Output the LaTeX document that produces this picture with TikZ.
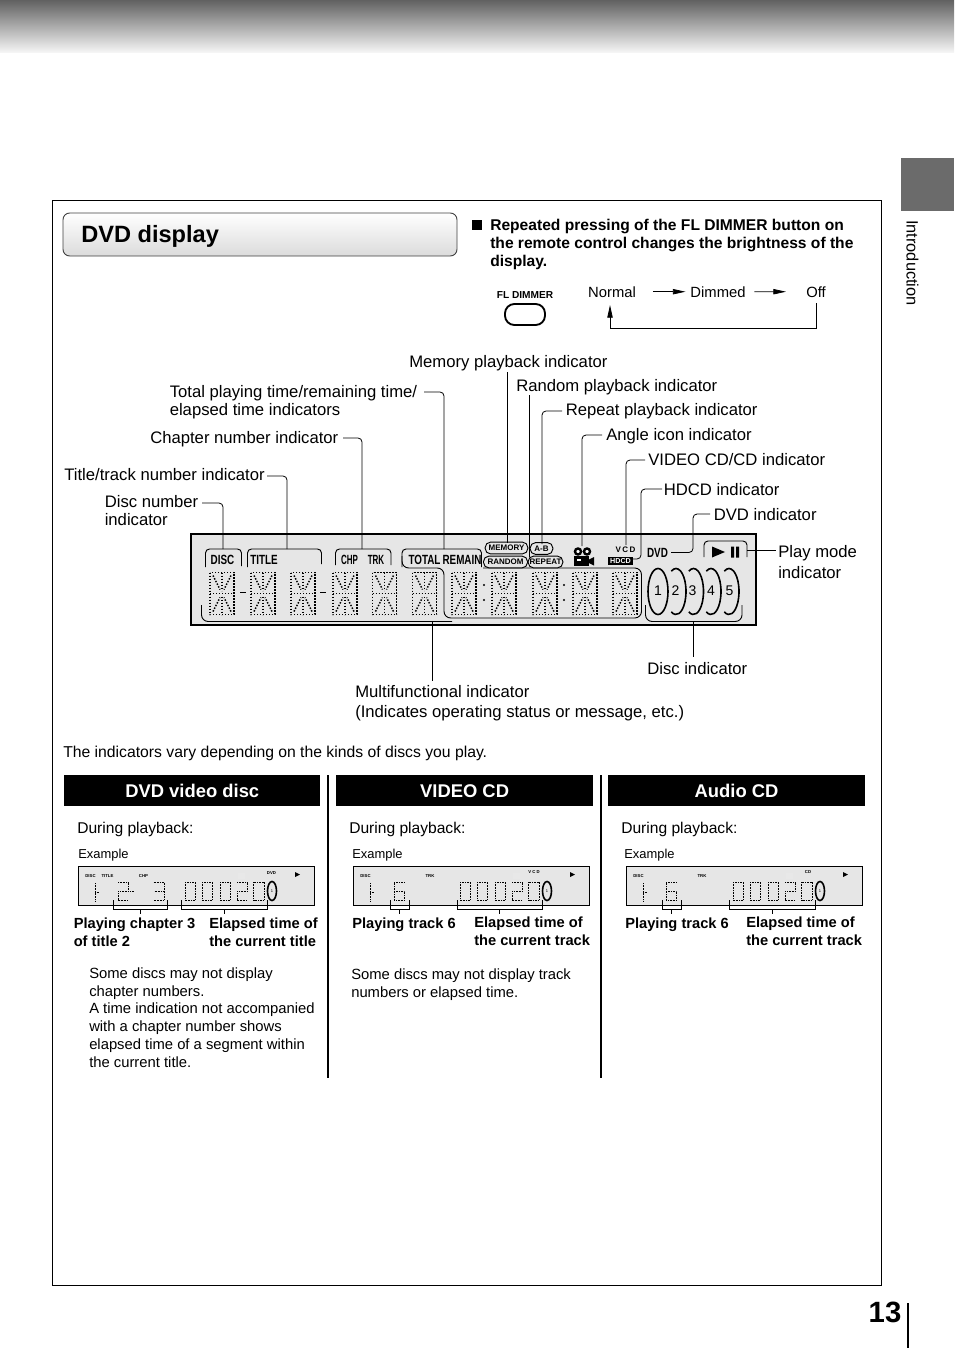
\documentclass[tikz,border=0pt]{standalone}
\usepackage{fontspec}
\setmainfont{Liberation Sans}
\usetikzlibrary{arrows.meta, shapes.geometric}
\definecolor{lcdcolor}{HTML}{E6E6E6}
\definecolor{tabcolor}{HTML}{6B6B6B}
\newcommand{\fsz}[1]{\fontsize{#1}{#1}\selectfont}
\newcommand{\narrowtxt}[1]{\scalebox{.74}[1]{#1}}
\newcommand{\slimtxt}[1]{\scalebox{.6}[1]{#1}}
\tikzset{
  pics/lcdchar/.style={code={
    \draw[lcdot] (-12,-21) rectangle (12,21) (-12,0) -- (12,0) (0,-21) -- (0,-3) (0,3) -- (0,21);
    \draw[lcdot] (-9,-18) -- (-2,-4) (9,-18) -- (2,-4) (-9,18) -- (-2,4) (9,18) -- (2,4);
  }},
  pics/dzero/.style={code={\draw[minidot] (0,0) rectangle (10.5,18);}},
  pics/dtwo/.style={code={\draw[minidot] (0,0) -- (10.5,0) -- (10.5,9) -- (0,9) -- (0,18) -- (10.5,18);}},
  pics/dthree/.style={code={\draw[minidot] (0,0) -- (10.5,0) -- (10.5,18) -- (0,18) (1,9) -- (10.5,9);}},
  pics/dsix/.style={code={\draw[minidot] (10.5,0) -- (0,0) -- (0,18) -- (10.5,18) -- (10.5,9) -- (0,9);}},
  pics/done/.style={code={\draw[minidot] (0,0) -- (0,18) (0,9) -- (4,9);}},
}
% one small display, #1 = shift, #2 = name suffix
\newcommand{\minidisp}[2]{
  \begin{scope}[shift={(#1,0)}]
    \node[tiny lcd, anchor=center] (mdisc#2) at (90.5,876.5) {DISC};
    \path (95,883) pic {done};
    \draw[lcdring] (272,891) ellipse (4.5 and 9.5);
    \node[tiny lcd, font=\fsz{3}, anchor=center] (mone#2) at (272,891) {1};
    \foreach \x/\d in {185/dzero,202/dzero,220/dzero,237/dtwo,253.5/dzero} \path (\x,882) pic {\d};
    \fill[black] (295,872) -- (300,874.5) -- (295,877) -- cycle;
    \fill[black!9] (238,873) rectangle (245,879);
  \end{scope}
}
\begin{document}
\begin{tikzpicture}[x=0.75pt, y=-0.75pt,
    lbl/.style={font=\fsz{12.5}, inner sep=0, anchor=base west, align=left},
    note/.style={lbl, font=\fsz{11.1}},
    boldtxt/.style={lbl, font=\fsz{11}\bfseries},
    lead/.style={line width=.6pt, rounded corners=3pt},
    arr/.style={-{Stealth[length=9.5pt, width=4pt, inset=0pt]}, line width=.6pt},
    brk/.style={line width=.7pt, rounded corners=3pt},
    lcdot/.style={line width=1.15pt, dash pattern=on 1.1pt off 1.15pt},
    minidot/.style={line width=.45pt, dash pattern=on .6pt off .6pt},
    lcdring/.style={line width=1.2pt},
    lcdtxt/.style={font=\fsz{10}\bfseries, inner sep=0},
    tiny lcd/.style={font=\fsz{3.2}\bfseries, inner sep=0},
    pill/.style={draw, fill=lcdcolor, rounded corners=4pt, inner sep=0, line width=.7pt, font=\fsz{6}\bfseries, minimum height=8.8pt},
    head/.style={fill=black, text=white, font=\fsz{13.8}\bfseries, minimum height=23.25pt, minimum width=192.5pt, inner sep=0, text height=10pt, text depth=0pt},
  ]
  \useasboundingbox (0,0) rectangle (954,1348);

  % page furniture
  \fill[top color=black!62, bottom color=black!3] (0,0) rectangle (954,53);
  \fill[tabcolor] (901,158) rectangle (954,211);
  \node[font=\fsz{12.3}, rotate=-90, inner sep=0] (side) at (912.5,263) {Introduction};
  \draw[line width=.7pt] (52,200) rectangle (881,1285);
  \node[font=\fsz{22}\bfseries, inner sep=0] (pageno) at (885,1312) {13};
  \coordinate (ruletop) at (908,1303);
  \coordinate (rulebot) at (908,1348);
  \draw[line width=1.2pt] (ruletop) -- (rulebot);

  % title and dimmer
  \draw[draw=black!75, top color=white, bottom color=black!14, rounded corners=5pt, line width=.7pt] (63,213) rectangle (457,256);
  \node[lbl, font=\fsz{17.7}\bfseries] (title) at (81,243) {DVD display};
  \fill (472,220) rectangle (482,230);
  \node[boldtxt, font=\fsz{11.7}\bfseries] (dimtxt) at (490,267) {Repeated pressing of the FL DIMMER button on\\[1.8pt]the remote control changes the brightness of the\\[1.8pt]display.};
  \node[font=\fsz{7.6}\bfseries, inner sep=0] (fldim) at (525,295) {FL DIMMER};
  \draw[line width=1.4pt, rounded corners=7pt] (505,304) rectangle (545,325);
  \node[note, anchor=base] (nrm) at (612,297) {Normal};
  \node[note, anchor=base] (dim) at (718,297) {Dimmed};
  \node[note, anchor=base] (off) at (816,297) {Off};
  \draw[arr, shorten <=12.5pt, shorten >=3.5pt] (nrm) -- (dim);
  \draw[arr, shorten <=6.5pt, shorten >=15pt] (dim) -- (off);
  \coordinate (backtip) at (610,305);
  \coordinate (backlow) at (816,328);
  \draw[arr, shorten <=4.5pt] (off.south) -- (backlow) -- (backlow -| backtip) -- (backtip);

  % big display
  \draw[fill=lcdcolor, line width=1.5pt] (191,534) rectangle (756,625);
  \foreach \x in {222,263,303,345,384.5,424.5,464,504,545,585,625} \path (\x,593.5) pic {lcdchar};
  \foreach \x in {243,323} \draw[line width=.9pt] (\x-3,592.5) -- (\x+3,592.5);
  \foreach \x in {484,564} \foreach \y in {585,600} \fill (\x,\y) circle (1.1);

  \draw[brk] (205.5,567) -- (205.5,549) -- (241.5,549) -- (241.5,566);
  \draw[brk] (247.5,567) -- (247.5,549) -- (321.5,549) -- (321.5,564);
  \draw[brk] (335.5,565) -- (335.5,549) -- (391,549) -- (391,565);
  \draw[brk] (402,567) -- (402,549) -- (481.5,549) -- (481.5,567);
  \draw[brk, rounded corners=5pt] (402,556) -- (402,568) -- (444,568) -- (444,618) -- (641.5,618) -- (641.5,568) -- (483,568);
  \draw[brk, rounded corners=5pt] (201.5,605) -- (201.5,621.5) -- (452,621.5);
  \draw[brk, rounded corners=5pt] (645.5,605) -- (645.5,621.5) -- (742,621.5) -- (742,605);
  \draw[brk] (704,557) -- (704,541) -- (747,541) -- (747,557);

  \node[lcdtxt] (tdisc) at (222.5,559.5) {\narrowtxt{DISC}};
  \node[lcdtxt, anchor=west] (ttitle) at (250,559.5) {\narrowtxt{TITLE}};
  \node[lcdtxt] (tchp) at (349.5,559.5) {\slimtxt{CHP}};
  \node[lcdtxt] (ttrk) at (376,559.5) {\slimtxt{TRK}};
  \node[lcdtxt] (ttotal) at (424.5,559.5) {\narrowtxt{TOTAL}};
  \node[lcdtxt] (tremain) at (462,559.5) {\narrowtxt{REMAIN}};
  \node[pill, minimum width=32pt] (pmem) at (506.5,548) {MEMORY};
  \node[pill, minimum width=17pt, fill=lcdcolor] (pab) at (541.5,548.5) {A-B};
  \node[pill, minimum width=26pt] (prep) at (545.5,562) {REPEAT};
  \node[pill, minimum width=33pt] (prnd) at (505.5,562) {RANDOM};

  % angle icon
  \draw[line width=1.8pt, fill=white] (578,551.5) circle (3) (587,551.5) circle (3);
  \fill (574,555.5) rectangle (589,565.5);
  \fill (589,559.5) -- (594,557) -- (594,565.5) -- (589,563) -- cycle;
  \fill[white] (577,558.5) rectangle (581,561);

  \node[font=\fsz{6}\bfseries, inner sep=0] (tvcd) at (625.5,550) {V\,C\,D};
  \node[fill=black, text=white, font=\fsz{5.4}\bfseries, inner sep=0, minimum width=19pt, minimum height=6pt] (thdcd) at (620.5,561) {HDCD};
  \node[lcdtxt] (tdvd) at (657.5,552.5) {\narrowtxt{DVD}};
  \fill (712,546.5) -- (725,552) -- (712,557.5) -- cycle;
  \fill (731,546.5) rectangle (734,557.5) (736,546.5) rectangle (739,557.5);

  \draw[lcdring] (658,591.5) ellipse (10 and 23);
  \foreach \x in {676,693.5,711,729} \draw[lcdring] ([shift={(118:10 and 23)}]\x,591.5) arc[start angle=118, end angle=-118, x radius=10, y radius=23];
  \foreach \x/\n in {658/1,675.5/2,692.5/3,711/4,729.5/5} \node[font=\fsz{10.5}, inner sep=0] (dn\n) at (\x,591) {\n};

  % indicator labels
  \node[lbl] (lmem) at (409,367) {Memory playback indicator};
  \node[lbl] (lrnd) at (516,391) {Random playback indicator};
  \node[lbl] (lrep) at (565.5,415) {Repeat playback indicator};
  \node[lbl] (lang) at (606,440) {Angle icon indicator};
  \node[lbl] (lvcd) at (648,465) {VIDEO CD/CD indicator};
  \node[lbl] (lhdcd) at (663.5,495) {HDCD indicator};
  \node[lbl] (ldvd) at (713.5,520) {DVD indicator};
  \node[lbl] (lplay) at (778,578) {Play mode\\[3pt]indicator};
  \node[lbl] (ltot) at (169.5,415) {Total playing time/remaining time/\\[.8pt]elapsed time indicators};
  \node[lbl] (lchp) at (150,443) {Chapter number indicator};
  \node[lbl] (ltrk) at (64,480) {Title/track number indicator};
  \node[lbl] (ldisc) at (104.5,525) {Disc number\\[.8pt]indicator};
  \node[lbl] (ldiscs) at (647,674) {Disc indicator};
  \node[lbl] (lmulti) at (355,717) {Multifunctional indicator\\[2.2pt](Indicates operating status or message, etc.)};
  \node[lbl, font=\fsz{11.8}] (lvary) at (63,757) {The indicators vary depending on the kinds of discs you play.};

  % leader ends
  \foreach \n/\x/\y in {a1/202/503,a2/223/549,b1/267/476,b2/287/549,c1/343/438,c2/362/549,d1/424/392,d2/444/549,e1/507/372,e2/507/543,f1/529/395,f2/529/557,g1/562/411,g2/542/544,h1/602/435,h2/582/546,i1/645/460,i2/626/545,j1/662/489,j2/633/559,j3/641/559,k1/710/514,k2/671/552.5,k3/693/552.5,l1/747/550,l2/776/550,m1/693/621.5,m2/693/657,n1/432/621.5,n2/432/681}
    \coordinate (\n) at (\x,\y);
  \draw[lead] (a1) -| (a2);
  \draw[lead] (b1) -| (b2);
  \draw[lead] (c1) -| (c2);
  \draw[lead] (d1) -| (d2);
  \draw[lead] (e1) -- (e2);
  \draw[lead] (f1) -- (f2);
  \draw[lead] (g1) -| (g2);
  \draw[lead] (h1) -| (h2);
  \draw[lead] (i1) -| (i2);
  \draw[lead] (j1) -| (j3) -- (j2);
  \draw[lead] (k1) -| (k3) -- (k2);
  \draw[lead] (l1) -- (l2);
  \draw[lead] (m1) -- (m2);
  \draw[lead] (n1) -- (n2);

  % three columns
  \node[head, minimum width=192pt, anchor=north west] (hdvd) at (64,775) {DVD video disc};
  \node[head, anchor=north west] (hvcd) at (336,775) {VIDEO CD};
  \node[head, anchor=north west] (hcd) at (608,775) {Audio CD};
  \coordinate (s1t) at (328,775);
  \coordinate (s1b) at (328,1078);
  \coordinate (s2t) at (601,775);
  \coordinate (s2b) at (601,1078);
  \draw[line width=1.5pt] (s1t) -- (s1b);
  \draw[line width=1.5pt] (s2t) -- (s2b);

  \foreach \x/\n in {77/a,349/b,621/c} \node[note, font=\fsz{11.7}] (dur\n) at (\x,833) {During playback:};
  \foreach \x/\n in {78/a,352/b,624/c} \node[lbl, font=\fsz{9.7}] (ex\n) at (\x,858) {Example};
  \foreach \x in {78,353,626} \draw[fill=lcdcolor, line width=.7pt] (\x,866) rectangle (\x+236,905);

  \minidisp{0}{a}
  \minidisp{275}{b}
  \minidisp{548}{c}
  \node[tiny lcd] (mtitle) at (107.5,876.5) {TITLE};
  \node[tiny lcd] (mchp) at (143.5,876.5) {CHP};
  \node[tiny lcd] (mdvd) at (271.5,873.5) {DVD};
  \path (118,882) pic {dtwo};
  \draw[minidot] (130,891) -- (134,891);
  \path (153.5,882) pic {dthree};
  \node[tiny lcd] (mtrkb) at (430,876.5) {TRK};
  \node[tiny lcd] (mvcd) at (534,872) {V C D};
  \path (394,882) pic {dsix};
  \node[tiny lcd] (mtrkc) at (702,876.5) {TRK};
  \node[tiny lcd] (mcd) at (808,872) {CD};
  \path (666,882) pic {dsix};

  % brackets below the small displays
  \foreach \xa/\xm/\xb in {113.5/140/167,181.5/224/267,390/399.5/409,457/499/542,662/671/681,729/772/815}
    \draw[line width=.6pt] (\xa,900) -- (\xa,909) -- (\xb,909) -- (\xb,900) (\xm,909) -- (\xm,914);

  \node[boldtxt] (pa) at (73.5,946) {Playing chapter 3\\[2pt]of title 2};
  \node[boldtxt] (ea) at (209,946) {Elapsed time of\\[2pt]the current title};
  \node[boldtxt] (pb) at (352,928) {Playing track 6};
  \node[boldtxt] (eb) at (474,945) {Elapsed time of\\[2pt]the current track};
  \node[boldtxt] (pc) at (625,928) {Playing track 6};
  \node[boldtxt] (ec) at (746,945) {Elapsed time of\\[2pt]the current track};

  \node[note] (na) at (89,1067) {Some discs may not display\\[2.2pt]chapter numbers.\\[2.2pt]A time indication not accompanied\\[2.2pt]with a chapter number shows\\[2.2pt]elapsed time of a segment within\\[2.2pt]the current title.};
  \node[note] (nb) at (351,997) {Some discs may not display track\\[2.2pt]numbers or elapsed time.};
\end{tikzpicture}
\end{document}
